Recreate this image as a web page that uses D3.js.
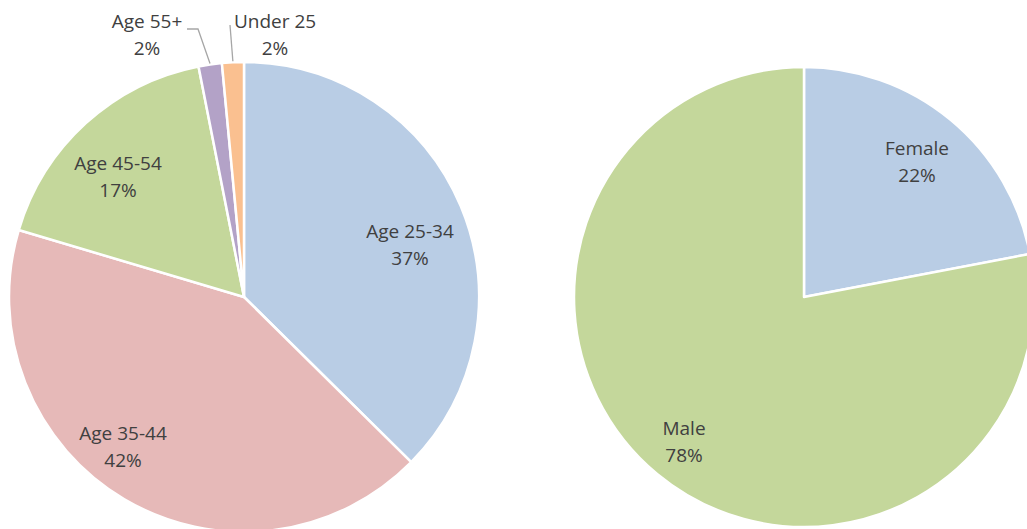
<!DOCTYPE html>
<html>
<head>
<meta charset="utf-8">
<script src="https://cdn.jsdelivr.net/npm/d3@7"></script>
<style>
    html, body { margin: 0; padding: 0; background: #fff; }
    #chart { width: 1027px; height: 529px; overflow: hidden; }
    .lbl { font-family: "Open Sans", "Noto Sans", sans-serif; font-size: 19px; fill: #404040; }
</style>
</head>
<body>
<div id="chart"></div>
<script>
// age split (percent)
const ageGroups = ['Age 25-34', 'Age 35-44', 'Age 45-54', 'Age 55+', 'Under 25'];
const ageValues = [37.4, 42.2, 17.3, 1.6, 1.5];
const ageColors = ['#B9CDE5', '#E6B9B8', '#C4D79B', '#B3A2C7', '#FAC090'];

// gender split (percent)
const genders = ['Female', 'Male'];
const genderValues = [22, 78];
const genderColors = ['#B9CDE5', '#C4D79B'];

const width = 1027,
    height = 529;

// label placement, offsets from the pie centre (first line baseline)
const labelOffsets = {
    'Age 25-34': [166, -59],
    'Age 35-44': [-121, 143],
    'Age 45-54': [-126, -127],
    'Age 55+': [-97, -269],
    'Under 25': [31, -269],
    'Female': [113, -142],
    'Male': [-120, 138]
};
// leader lines for the thin slices: start point and optional elbow
const leaders = {
    'Age 55+': { start: [-57, -268], elbow: [-46, -268] },
    'Under 25': { start: [-14, -272], elbow: null }
};

const svg = d3.select('#chart').append('svg')
    .attr('width', width)
    .attr('height', height);

function drawPie(cx, cy, r, cats, vals, colors) {
    const total = d3.sum(vals);
    const data = cats.map((c, i) => ({ name: c, value: vals[i], color: colors[i] }));
    const pie = d3.pie().sort(null).value(d => d.value);
    const arc = d3.arc().innerRadius(0).outerRadius(r);
    const arcs = pie(data);

    const g = svg.append('g').attr('transform', 'translate(' + cx + ',' + cy + ')');

    g.selectAll('path.slice')
        .data(arcs)
        .enter()
        .append('path')
        .attr('class', 'slice')
        .attr('d', arc)
        .attr('fill', d => d.data.color)
        .attr('stroke', '#fff')
        .attr('stroke-width', 2.5)
        .attr('stroke-linejoin', 'round');

    // leader lines
    arcs.forEach(d => {
        const ld = leaders[d.data.name];
        if (!ld) return;
        const mid = (d.startAngle + d.endAngle) / 2;
        const end = [Math.sin(mid) * (r + 1), -Math.cos(mid) * (r + 1)];
        const pts = [ld.start];
        if (ld.elbow) pts.push(ld.elbow);
        pts.push(end);
        g.append('path')
            .attr('d', d3.line()(pts))
            .attr('fill', 'none')
            .attr('stroke', '#A6A6A6')
            .attr('stroke-width', 1.3);
    });

    const lbl = g.selectAll('text.lbl')
        .data(arcs)
        .enter()
        .append('text')
        .attr('class', 'lbl')
        .attr('text-anchor', 'middle')
        .attr('transform', d => {
            const o = labelOffsets[d.data.name];
            return 'translate(' + o[0] + ',' + o[1] + ')';
        });
    lbl.append('tspan').attr('x', 0).attr('y', 0).text(d => d.data.name);
    lbl.append('tspan').attr('x', 0).attr('y', 27)
        .text(d => Math.round(d.data.value / total * 100) + '%');
}

drawPie(244, 297, 235, ageGroups, ageValues, ageColors);
drawPie(804, 297, 230, genders, genderValues, genderColors);
</script>
</body>
</html>
